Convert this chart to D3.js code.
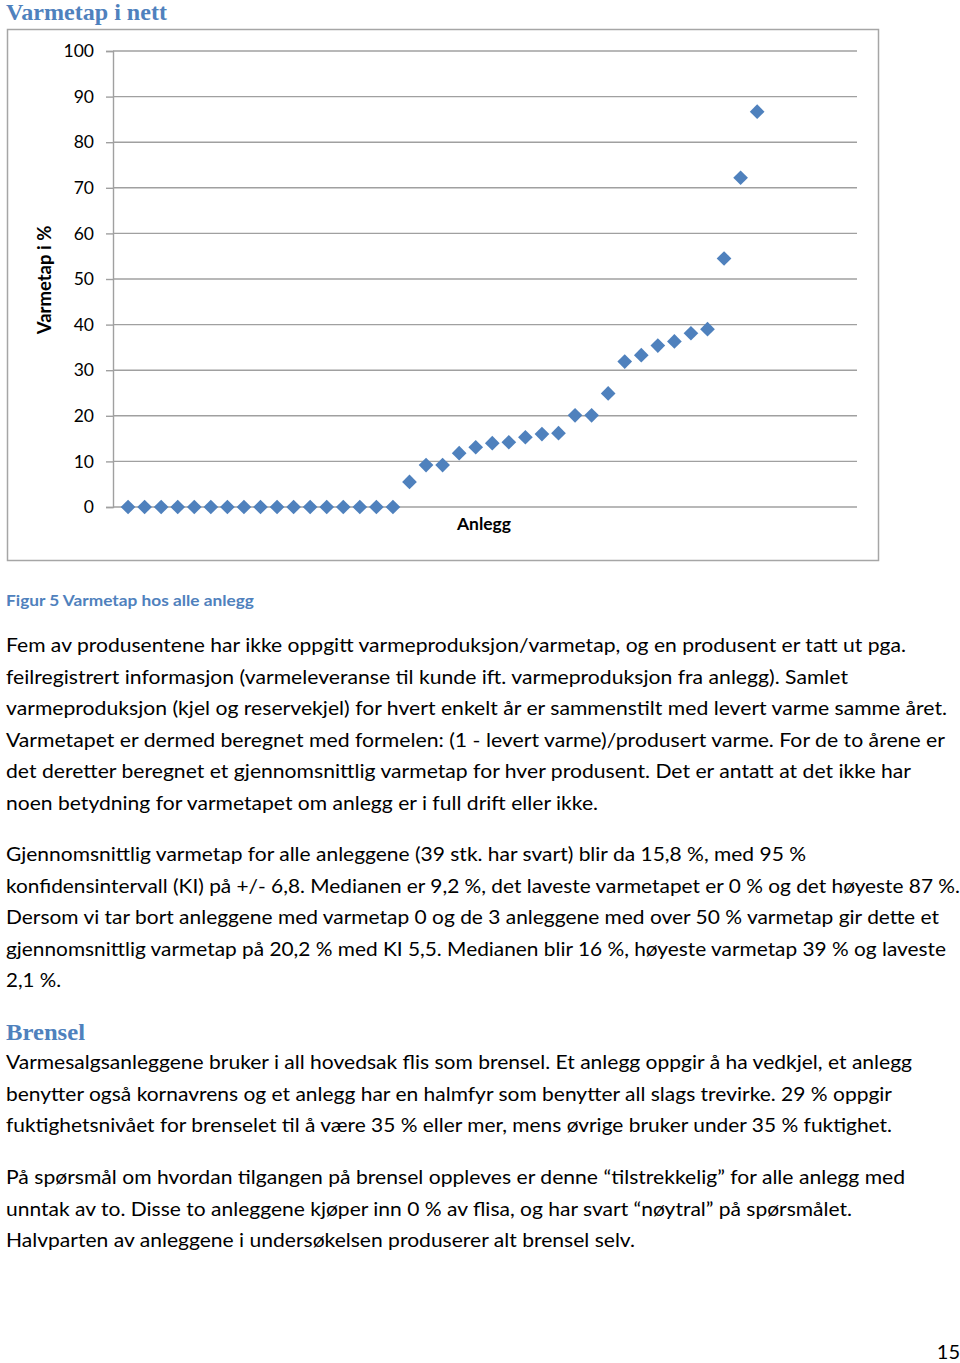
<!DOCTYPE html>
<html><head><meta charset="utf-8">
<script src="https://cdn.jsdelivr.net/npm/d3@7"></script>
<style>html,body{margin:0;padding:0;background:#fff;}svg{display:block;}</style>
</head><body>
<script>
// ---- data ----
const yTicks = [0,10,20,30,40,50,60,70,80,90,100];
const varmetap = [0,0,0,0,0,0,0,0,0,0,0,0,0,0,0,0,0,
  5.5,9.2,9.2,11.8,13.1,14.0,14.2,15.3,16.0,16.2,20.1,20.1,24.9,31.9,33.3,35.4,36.3,38.1,39.0,54.5,72.2,86.7];
const anlegg = varmetap.map((d,i)=>i+1);
const yTitle = "Varmetap i %";
const xTitle = "Anlegg";
const heading1 = "Varmetap i nett";
const caption = "Figur 5 Varmetap hos alle anlegg";
const heading2 = "Brensel";
const para1 = [
 ["Fem av produsentene har ikke oppgitt varmeproduksjon/varmetap, og en produsent er tatt ut pga.",906],
 ["feilregistrert informasjon (varmeleveranse til kunde ift. varmeproduksjon fra anlegg). Samlet",848],
 ["varmeproduksjon (kjel og reservekjel) for hvert enkelt år er sammenstilt med levert varme samme året.",947],
 ["Varmetapet er dermed beregnet med formelen: (1 - levert varme)/produsert varme. For de to årene er",945],
 ["det deretter beregnet et gjennomsnittlig varmetap for hver produsent. Det er antatt at det ikke har",911],
 ["noen betydning for varmetapet om anlegg er i full drift eller ikke.",598]
];
const para2 = [
 ["Gjennomsnittlig varmetap for alle anleggene (39 stk. har svart) blir da 15,8 %, med 95 %",806],
 ["konfidensintervall (KI) på +/- 6,8. Medianen er 9,2 %, det laveste varmetapet er 0 % og det høyeste 87 %.",960],
 ["Dersom vi tar bort anleggene med varmetap 0 og de 3 anleggene med over 50 % varmetap gir dette et",939],
 ["gjennomsnittlig varmetap på 20,2 % med KI 5,5. Medianen blir 16 %, høyeste varmetap 39 % og laveste",946],
 ["2,1 %.",61]
];
const para3 = [
 ["Varmesalgsanleggene bruker i all hovedsak flis som brensel. Et anlegg oppgir å ha vedkjel, et anlegg",912],
 ["benytter også kornavrens og et anlegg har en halmfyr som benytter all slags trevirke. 29 % oppgir",892],
 ["fuktighetsnivået for brenselet til å være 35 % eller mer, mens øvrige bruker under 35 % fuktighet.",892]
];
const para4 = [
 ["På spørsmål om hvordan tilgangen på brensel oppleves er denne “tilstrekkelig” for alle anlegg med",905],
 ["unntak av to. Disse to anleggene kjøper inn 0 % av flisa, og har svart “nøytral” på spørsmålet.",852],
 ["Halvparten av anleggene i undersøkelsen produserer alt brensel selv.",635]
];

const W=960,H=1363;
const svg=d3.select("body").append("svg").attr("width",W).attr("height",H);
const blue="#4f81bd";
const bodyFont="Lato, 'Open Sans', sans-serif";

// heading
svg.append("text").attr("x",6).attr("y",20).attr("font-family","'Liberation Serif', serif")
 .attr("font-weight","bold").attr("font-size",23).attr("fill",blue)
 .attr("textLength",161).attr("lengthAdjust","spacingAndGlyphs").text(heading1);

// chart frame
svg.append("rect").attr("x",7.5).attr("y",29.5).attr("width",871).attr("height",531)
 .attr("fill","#fff").attr("stroke","#a6a6a6").attr("stroke-width",1.5);

const x=d3.scaleLinear().domain([0,45]).range([111.5,856.5]);
const y=d3.scaleLinear().domain([0,100]).range([507,51]);
const g=svg.append("g");

// gridlines
g.selectAll("line.grid").data(yTicks).join("line").attr("class","grid")
 .attr("x1",113).attr("x2",857).attr("y1",d=>y(d)).attr("y2",d=>y(d))
 .attr("stroke","#a0a0a0").attr("stroke-width",1.4);

// y axis
const yAxis=d3.axisLeft(y).tickValues(yTicks).tickSize(7).tickPadding(12);
const ya=g.append("g").attr("transform","translate(113,0)").call(yAxis);
ya.select(".domain").attr("stroke","#a0a0a0").attr("stroke-width",1.4);
ya.selectAll(".tick line").attr("stroke","#a0a0a0").attr("stroke-width",1.4);
ya.selectAll(".tick text").attr("font-family",bodyFont).attr("font-size",17.5).attr("fill","#000");

// axis titles
svg.append("text").attr("transform","translate(51,280) rotate(-90)").attr("text-anchor","middle")
 .attr("font-family",bodyFont).attr("font-weight","bold").attr("font-size",18.5).text(yTitle);
svg.append("text").attr("x",484).attr("y",530).attr("text-anchor","middle")
 .attr("font-family",bodyFont).attr("font-weight","bold").attr("font-size",17.5).text(xTitle);

// points
const sym=d3.symbol().type(d3.symbolSquare).size(108);
g.selectAll("path.pt").data(anlegg).join("path").attr("class","pt")
 .attr("d",sym).attr("fill",blue)
 .attr("transform",(d,i)=>`translate(${x(d)},${y(varmetap[i])}) rotate(45)`);

// caption
svg.append("text").attr("x",6).attr("y",606).attr("font-family",bodyFont).attr("font-weight","bold")
 .attr("font-size",16).attr("fill",blue).attr("textLength",248).attr("lengthAdjust","spacingAndGlyphs").text(caption);

function para(lines,startCenter){
  lines.forEach((l,i)=>{
    svg.append("text").attr("x",6).attr("y",startCenter+i*31.6+7)
     .attr("font-family",bodyFont).attr("font-size",20).attr("fill","#000")
     .attr("textLength",l[1]-6).attr("lengthAdjust","spacingAndGlyphs").text(l[0]);
  });
}
para(para1,645);
para(para2,854);
svg.append("text").attr("x",6).attr("y",1040).attr("font-family","'Liberation Serif', serif")
 .attr("font-weight","bold").attr("font-size",23).attr("fill",blue)
 .attr("textLength",79).attr("lengthAdjust","spacingAndGlyphs").text(heading2);
para(para3,1062);
para(para4,1177);
svg.append("text").attr("x",960).attr("y",1359).attr("text-anchor","end").attr("font-family",bodyFont)
 .attr("font-size",20).text("15");
</script>
</body></html>
